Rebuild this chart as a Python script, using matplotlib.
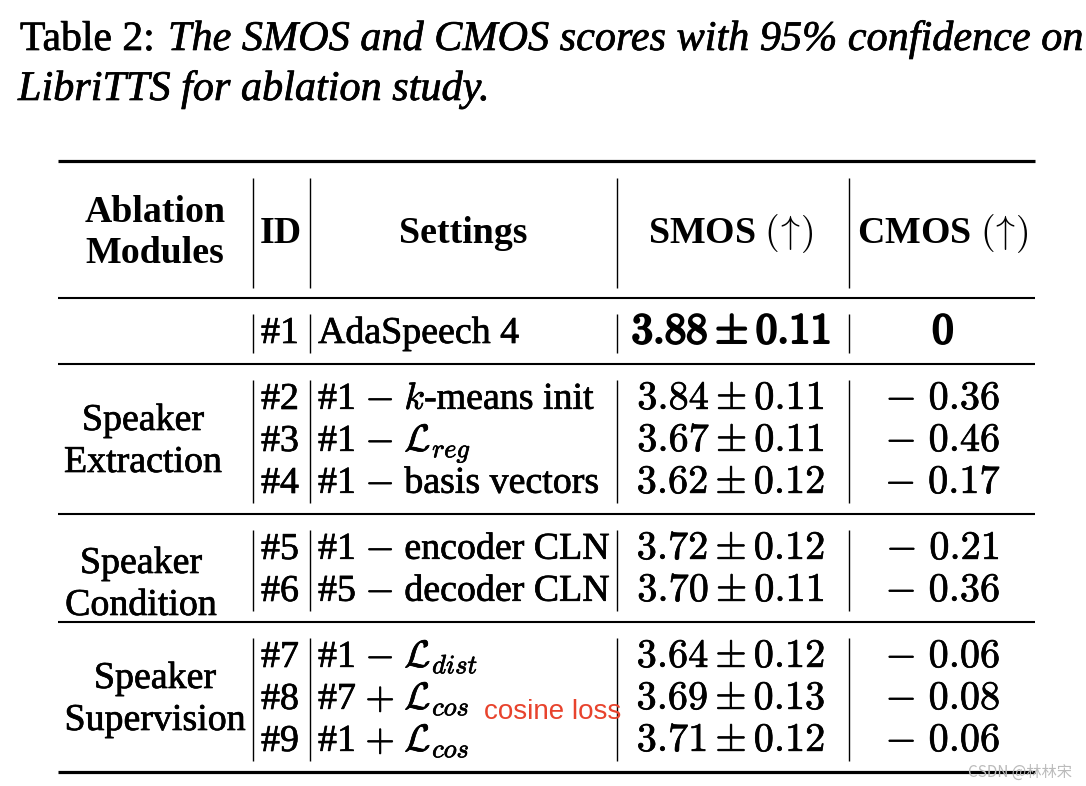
import matplotlib
matplotlib.use("Agg")
import matplotlib.pyplot as plt
import matplotlib.patheffects as pe

plt.rcParams['font.family'] = ['Liberation Serif', 'DejaVu Serif']
plt.rcParams['mathtext.fontset'] = 'cm'

# caption
caption_label = "Table 2:"
caption_lines = ["The SMOS and CMOS scores with 95% confidence on",
                 "LibriTTS for ablation study."]

# table content
header_cols = ["ID", "Settings", r"SMOS $(\!\uparrow\!)$", r"CMOS $(\!\uparrow\!)$"]
group_names = [["", ""], ["Speaker", "Extraction"], ["Speaker", "Condition"], ["Speaker", "Supervision"]]
group_sizes = [1, 3, 2, 3]
ids = ["#1", "#2", "#3", "#4", "#5", "#6", "#7", "#8", "#9"]
settings = ["AdaSpeech 4",
            r"#1 $-$ $k$-means init",
            r"#1 $-$ $\mathcal{L}_{reg}$",
            r"#1 $-$ basis vectors",
            r"#1 $-$ encoder CLN",
            r"#5 $-$ decoder CLN",
            r"#1 $-$ $\mathcal{L}_{dist}$",
            r"#7 $+$ $\mathcal{L}_{cos}$",
            r"#1 $+$ $\mathcal{L}_{cos}$"]
smos = [3.88, 3.84, 3.67, 3.62, 3.72, 3.70, 3.64, 3.69, 3.71]
smos_ci = [0.11, 0.11, 0.11, 0.12, 0.12, 0.11, 0.12, 0.13, 0.12]
cmos = [0, -0.36, -0.46, -0.17, -0.21, -0.36, -0.06, -0.08, -0.06]
note_text = "cosine loss"
watermark = "CSDN @林林宋"

fig = plt.figure(figsize=(10.86, 7.86), dpi=100)
ax = fig.add_axes([0, 0, 1, 1])
ax.set_xlim(0, 1086)
ax.set_ylim(786, 0)
ax.axis('off')

fs = 27.3     # Times-like text
fs_num = 29   # CM numbers
heavy = [pe.withStroke(linewidth=0.5, foreground='black')]
bold_num = [pe.withStroke(linewidth=1.7, foreground='black')]

# caption
ax.text(20, 50, caption_label, fontsize=30, va='baseline', ha='left', path_effects=heavy)
ax.text(168, 50, caption_lines[0], fontsize=30.4, style='italic', va='baseline', ha='left',
        path_effects=heavy)
ax.text(18, 100, caption_lines[1], fontsize=30.4, style='italic', va='baseline', ha='left',
        path_effects=heavy)

# column geometry
x_left, x_right = 58, 1035
vlines_x = [253, 310, 617, 849]
x_id = 261
x_set = 318
x_smos = 731
x_cmos = 943
group_centers = [155, 143, 141, 155]
group_label_shift = [0, 0, 14, 0]

# rules
top_rule, header_rule = 161, 298
ax.hlines(top_rule, x_left, x_right, color='black', lw=2.3)
ax.hlines(header_rule, x_left, x_right, color='black', lw=1.5)

# header
ax.text(155, 222, "Ablation", fontsize=fs, fontweight='bold', ha='center', va='baseline')
ax.text(155, 263, "Modules", fontsize=fs, fontweight='bold', ha='center', va='baseline')
for x, lab in zip([281, 463, x_smos, x_cmos], header_cols):
    ax.text(x, 243, lab, fontsize=fs, fontweight='bold', ha='center', va='baseline')
ax.vlines(vlines_x, 178, 288, color='black', lw=1.0)

# body
pitch = 42
y_rule = header_rule
row = 0
for g, n in enumerate(group_sizes):
    first = y_rule + 45
    ax.vlines(vlines_x, first - 29, first + pitch * (n - 1) + 10, color='black', lw=1.0)
    for k in range(n):
        yb = first + pitch * k
        ax.text(x_id, yb, ids[row], fontsize=fs, ha='left', va='baseline', path_effects=heavy)
        ax.text(x_set, yb, settings[row], fontsize=fs, ha='left', va='baseline', path_effects=heavy)
        s = r"$%.2f \pm %.2f$" % (smos[row], smos_ci[row])
        if row == 0:
            c = r"$%d$" % cmos[row]
            size, eff = 30.8, bold_num
        else:
            c = r"$-\ %.2f$" % abs(cmos[row])
            size, eff = fs_num, heavy
        ax.text(x_smos, yb, s, fontsize=size, ha='center', va='baseline', path_effects=eff)
        ax.text(x_cmos, yb, c, fontsize=size, ha='center', va='baseline', path_effects=eff)
        row += 1
    mid = first + pitch * (n - 1) / 2 + group_label_shift[g]
    if group_names[g][0]:
        ax.text(group_centers[g], mid - 21, group_names[g][0], fontsize=fs, ha='center',
                va='baseline', path_effects=heavy)
        ax.text(group_centers[g], mid + 21, group_names[g][1], fontsize=fs, ha='center',
                va='baseline', path_effects=heavy)
    y_rule = first + pitch * (n - 1) + 21
    last = g == len(group_sizes) - 1
    ax.hlines(y_rule, x_left, x_right, color='black', lw=2.3 if last else 1.5)

# annotations
ax.text(484, 719, note_text, fontsize=20, color='#E8432D', family='Liberation Sans',
        ha='left', va='baseline')
ax.text(1072, 777, watermark, fontsize=11, color='#BBBBBB',
        family=['Noto Sans CJK SC', 'DejaVu Sans'], ha='right', va='baseline')

fig.savefig("out.png", dpi=100)
